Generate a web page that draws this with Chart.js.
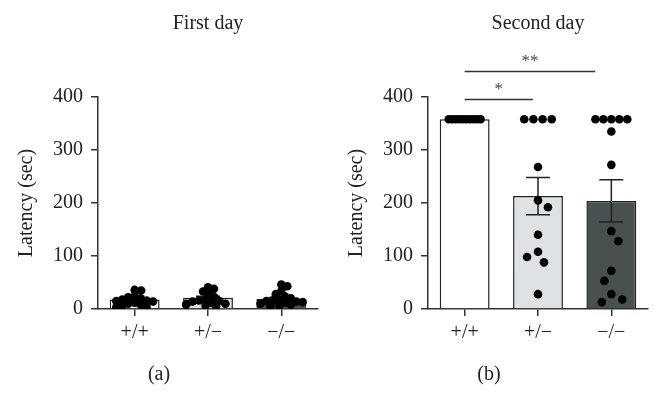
<!DOCTYPE html>
<html>
<head>
<meta charset="utf-8">
<script src="https://cdn.jsdelivr.net/npm/chart.js@4.4.0/dist/chart.umd.min.js"></script>
<style>
  body { margin: 0; background: #fff; }
  #wrap { position: relative; width: 663px; height: 417px; }
  canvas { position: absolute; top: 0; }
</style>
</head>
<body>
<div id="wrap">
  <canvas id="dayOne" width="330" height="417" style="left:0"></canvas>
  <canvas id="dayTwo" width="333" height="417" style="left:330px"></canvas>
</div>
<script>
// categories and ticks
var genotypes = ['+/+', '+/\u2212', '\u2212/\u2212'];
var yTicks = [0, 100, 200, 300, 400];

// First day (a)
var firstDayMean = [18, 21, 19];
var firstDaySem = [3, 3, 3];
var firstDayPoints = [
    [36, 35, 24, 22, 20, 18, 16, 15, 14, 12, 10, 8, 6, 4, 3],
    [41, 38, 33, 28, 22, 18, 16, 15, 14, 12, 10, 10, 8, 6, 5],
    [46, 43, 34, 28, 24, 20, 18, 16, 15, 14, 13, 12, 10, 8, 6, 5]
];

// Second day (b)
var secondDayMean = [358, 213, 204];
var secondDaySem = [0, 35, 40];
var secondDayPoints = [
    [358, 358, 358, 358, 358, 358, 358, 358, 358, 358],
    [358, 358, 358, 358, 268, 205, 192, 140, 108, 98, 88, 28],
    [358, 358, 358, 358, 358, 335, 272, 147, 128, 72, 53, 28, 18, 13]
];

// significance brackets (second day)
var bracketFrom = [0, 0];
var bracketTo = [0.93, 1.78];
var bracketValue = [396, 450];
var bracketLabel = ['*', '**'];

var serif = '"Liberation Serif", "DejaVu Serif", serif';
var ink = '#222';

// rough pixel scale, only used to spread the dots
var catPx = 73.7;
var yPx = 0.525;

// simple beeswarm: returns x offsets in px
function swarm(values, gap, tieStep, maxHalf) {
    var counts = {};
    values.forEach(function(v) { counts[v] = (counts[v] || 0) + 1; });
    var offsets = new Array(values.length);
    var placed = [];
    var done = {};
    var flip = 1;
    var order = values.map(function(v, i) { return i; }).sort(function(a, b) { return values[b] - values[a]; });
    order.forEach(function(i) {
        var v = values[i];
        if (counts[v] > 2) {
            if (done[v]) return;
            done[v] = true;
            var n = counts[v];
            var step = Math.min(tieStep, 2 * maxHalf / (n - 1));
            var k = 0;
            values.forEach(function(w, j) {
                if (w === v) {
                    offsets[j] = (k - (n - 1) / 2) * step;
                    placed.push({x: offsets[j], y: w * yPx});
                    k++;
                }
            });
            return;
        }
        var y = v * yPx;
        var chosen = null;
        for (var s = 0; s <= maxHalf && chosen === null; s += 0.5) {
            var cands = s === 0 ? [0] : [s * flip, -s * flip];
            for (var c = 0; c < cands.length; c++) {
                var ok = placed.every(function(p) {
                    var dx = p.x - cands[c], dy = p.y - y;
                    return dx * dx + dy * dy >= gap * gap;
                });
                if (ok) { chosen = cands[c]; break; }
            }
        }
        if (chosen === null) chosen = maxHalf * flip;
        if (chosen !== 0) flip = -flip;
        offsets[i] = chosen;
        placed.push({x: chosen, y: y});
    });
    return offsets;
}

function dotData(points, gap, tieStep, maxHalf) {
    var out = [];
    points.forEach(function(vals, g) {
        var offs = swarm(vals, gap, tieStep, maxHalf);
        vals.forEach(function(v, i) {
            out.push({x: g + offs[i] / catPx, y: v});
        });
    });
    return out;
}

var errorBars = {
    id: 'errorBars',
    afterDatasetDraw: function(chart, args, opts) {
        if (args.index !== 0) return;
        var ctx = chart.ctx, x = chart.scales.x, y = chart.scales.y;
        ctx.save();
        ctx.strokeStyle = ink;
        ctx.lineWidth = 1.5;
        opts.mean.forEach(function(m, i) {
            var s = opts.sem[i];
            if (!s) return;
            var cx = x.getPixelForValue(i);
            var top = y.getPixelForValue(m + s), bot = y.getPixelForValue(m - s);
            ctx.beginPath();
            ctx.moveTo(cx, top); ctx.lineTo(cx, bot);
            ctx.moveTo(cx - 12, top); ctx.lineTo(cx + 12, top);
            ctx.moveTo(cx - 12, bot); ctx.lineTo(cx + 12, bot);
            ctx.stroke();
        });
        ctx.restore();
    }
};

var brackets = {
    id: 'brackets',
    afterDraw: function(chart, args, opts) {
        if (!opts.show) return;
        var ctx = chart.ctx, x = chart.scales.xDots, y = chart.scales.y;
        ctx.save();
        ctx.strokeStyle = '#333';
        ctx.lineWidth = 1.3;
        ctx.fillStyle = '#444';
        ctx.font = '17px ' + serif;
        ctx.textAlign = 'center';
        ctx.textBaseline = 'middle';
        bracketValue.forEach(function(v, i) {
            var x0 = x.getPixelForValue(bracketFrom[i]);
            var x1 = x.getPixelForValue(bracketTo[i]);
            var py = Math.round(y.getPixelForValue(v)) + 0.5;
            ctx.beginPath();
            ctx.moveTo(x0, py); ctx.lineTo(x1, py);
            ctx.stroke();
            ctx.fillText(bracketLabel[i], (x0 + x1) / 2, py - 10);
        });
        ctx.restore();
    }
};

function makeChart(id, title, panel, mean, sem, points, gap, tieStep, maxHalf, rightPad, showBrackets) {
    return new Chart(document.getElementById(id), {
        type: 'bar',
        data: {
            labels: genotypes,
            datasets: [{
                type: 'bar',
                data: mean,
                backgroundColor: ['#ffffff', '#dfe2e4', '#485150'],
                borderColor: ink,
                borderWidth: 1.5,
                barPercentage: 0.68,
                categoryPercentage: 1,
                grouped: false,
                order: 1
            }, {
                type: 'scatter',
                data: dotData(points, gap, tieStep, maxHalf),
                xAxisID: 'xDots',
                pointRadius: 4.3,
                pointBackgroundColor: '#000',
                pointBorderWidth: 0,
                order: 0
            }]
        },
        options: {
            responsive: false,
            animation: false,
            devicePixelRatio: 1,
            layout: { padding: { left: 0, right: rightPad, top: 0, bottom: 0 } },
            plugins: {
                legend: { display: false },
                tooltip: { enabled: false },
                title: {
                    display: true, text: title, fullSize: false, color: ink,
                    font: { family: serif, size: 20, weight: 'normal' },
                    padding: { top: 12, bottom: 61 }
                },
                subtitle: {
                    display: true, text: panel, position: 'bottom', color: ink,
                    font: { family: serif, size: 20, weight: 'normal' },
                    padding: { top: 13, bottom: 30 }
                },
                errorBars: { mean: mean, sem: sem },
                brackets: { show: showBrackets }
            },
            scales: {
                x: {
                    type: 'category',
                    offset: true,
                    border: { color: '#333', width: 1.5 },
                    grid: { offset: false, drawOnChartArea: false, tickLength: 7, color: '#333', lineWidth: 1.5 },
                    ticks: { color: ink, padding: 5, font: { family: serif, size: 20 } }
                },
                xDots: { type: 'linear', min: -0.5, max: 2.5, offset: false, display: false },
                y: {
                    min: 0, max: 400,
                    afterBuildTicks: function(axis) {
                        axis.ticks = yTicks.map(function(v) { return {value: v}; });
                    },
                    border: { color: '#333', width: 1.5 },
                    grid: { drawOnChartArea: false, tickLength: 7, color: '#333', lineWidth: 1.5 },
                    ticks: { color: ink, padding: 8, font: { family: serif, size: 20 } },
                    title: {
                        display: true, text: 'Latency (sec)', color: ink,
                        font: { family: serif, size: 20 },
                        padding: { top: 15, bottom: 6 }
                    }
                }
            }
        },
        plugins: [errorBars, brackets]
    });
}

makeChart('dayOne', 'First day', '(a)', firstDayMean, firstDaySem, firstDayPoints, 6.2, 6, 22, 12, false);
makeChart('dayTwo', 'Second day', '(b)', secondDayMean, secondDaySem, secondDayPoints, 12, 9.2, 16, 15, true);
</script>
</body>
</html>
